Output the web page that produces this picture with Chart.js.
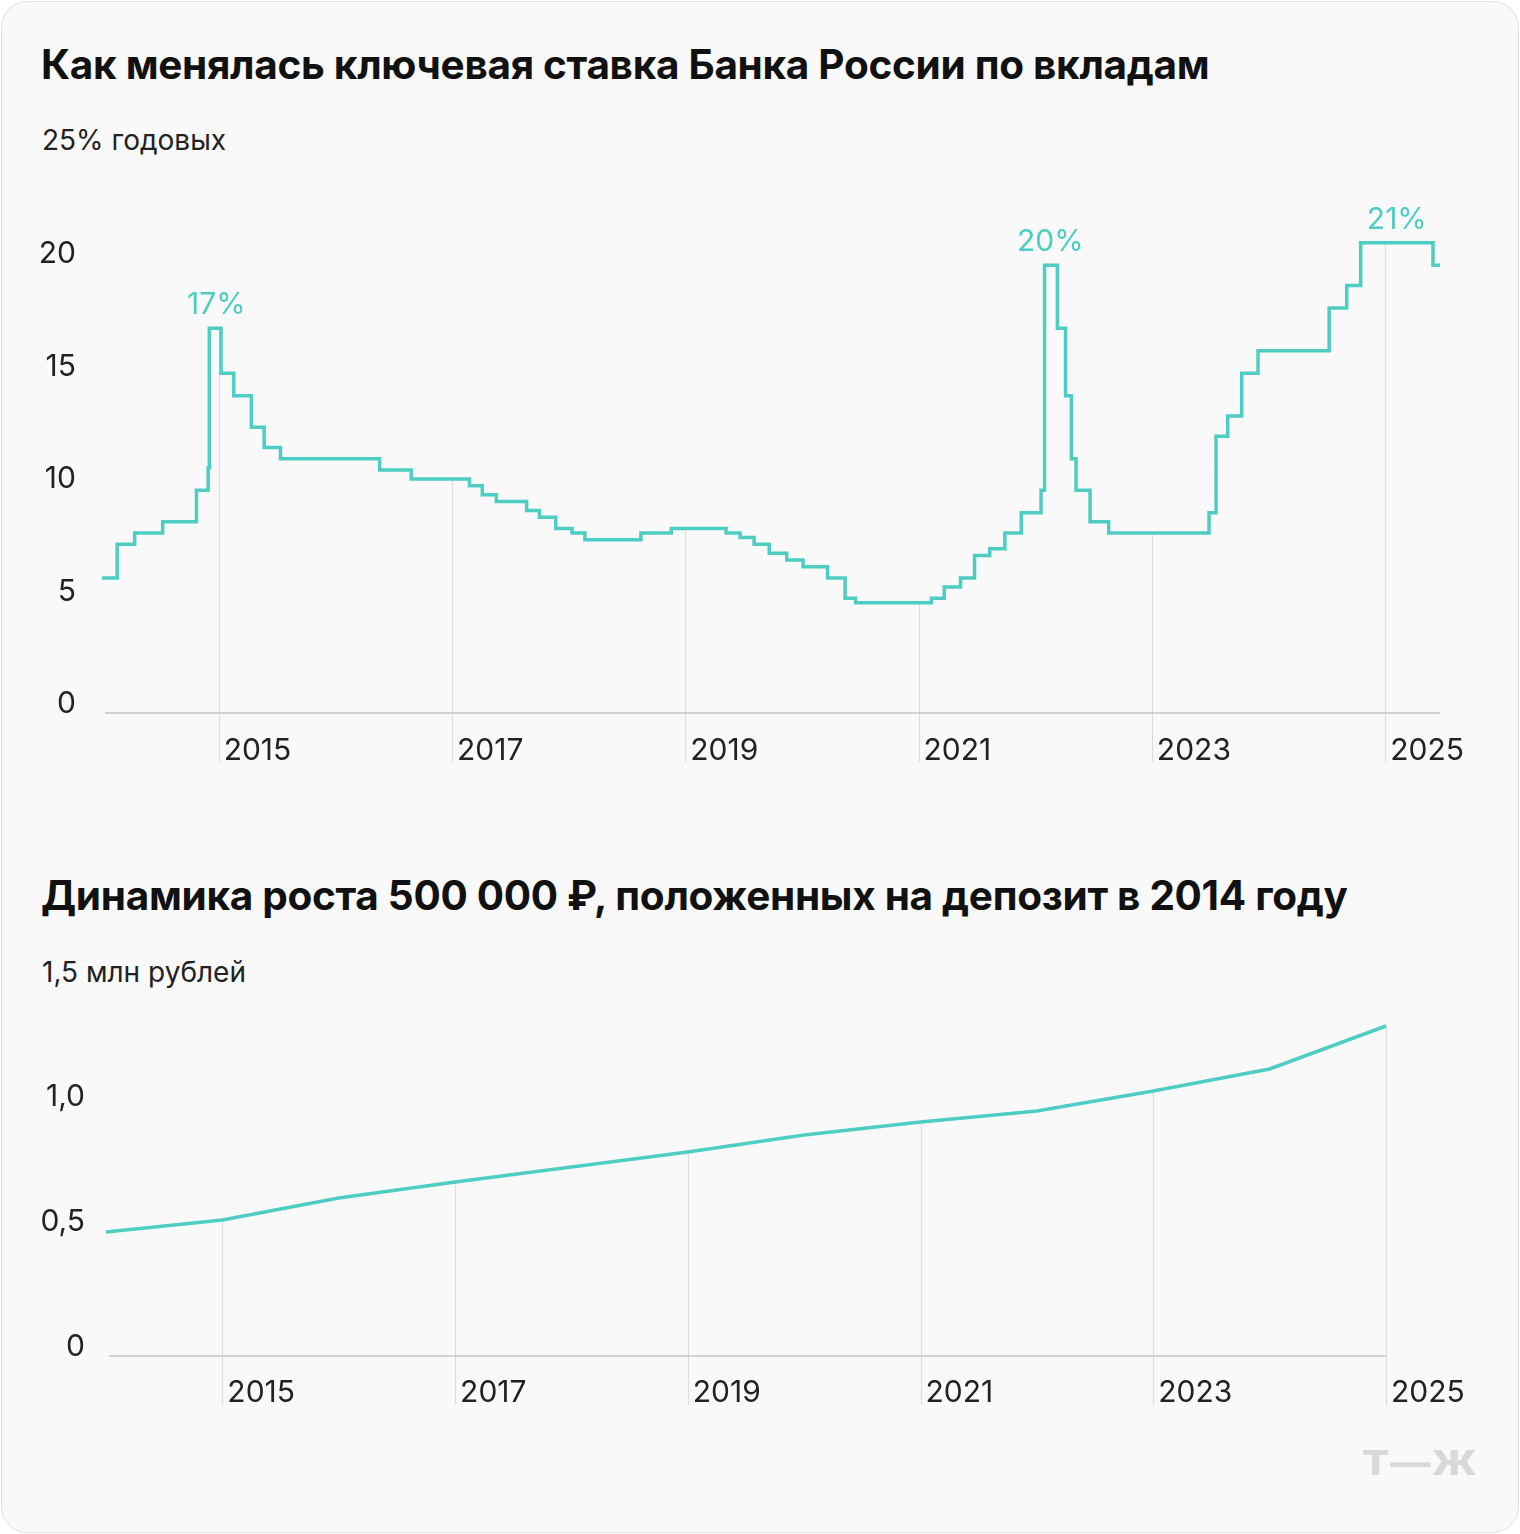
<!DOCTYPE html>
<html><head><meta charset="utf-8">
<script src="https://cdn.jsdelivr.net/npm/chart.js@4"></script>
<style>
  html,body{margin:0;padding:0;background:#fff;}
  .card{position:absolute;left:1px;top:1px;width:1516px;height:1530px;border:1px solid #e2e2e2;border-radius:26px;background:#f9f9f9;font-family:Inter,Roboto,sans-serif;color:#111;}
  h2{position:absolute;left:39px;margin:0;font-size:40.5px;font-weight:700;letter-spacing:-0.3px;}
  .unit{position:absolute;left:40px;font-size:28px;color:#222;}
  canvas{position:absolute;left:0;}
  .logo{position:absolute;left:1360px;top:1440px;font-size:34px;font-weight:800;color:#d8d8d8;letter-spacing:1px;transform:scaleX(1.18);transform-origin:left;}
</style></head>
<body><div class="card">
<h2 style="top:38px">Как менялась ключевая ставка Банка России по вкладам</h2>
<div class="unit" style="top:121px">25% годовых</div>
<h2 style="top:869px">Динамика роста 500 000 ₽, положенных на депозит в 2014 году</h2>
<div class="unit" style="top:953px">1,5 млн рублей</div>
<div class="logo">Т—Ж</div>
</div>
<canvas id="rate" width="1520" height="800" style="top:100px"></canvas>
<canvas id="growth" width="1520" height="510" style="top:940px"></canvas>
<script>
// ставка по вкладам: начало периода (год) и значение, %
const rateDates = [2014.00,2014.13,2014.28,2014.52,2014.81,2014.91,2014.92,2015.02,2015.13,2015.28,2015.39,2015.53,2016.38,2016.65,
  2017.15,2017.26,2017.38,2017.64,2017.75,2017.89,2018.03,2018.14,2018.62,2018.88,2019.35,2019.47,2019.59,2019.72,2019.87,
  2020.01,2020.22,2020.37,2020.46,2021.11,2021.22,2021.36,2021.48,2021.61,2021.74,2021.88,2022.05,2022.08,2022.19,2022.26,
  2022.31,2022.35,2022.47,2022.63,2023.49,2023.55,2023.65,2023.77,2023.91,2024.52,2024.67,2024.79,2025.41,2025.47];
const rateValues = [6.0,7.5,8.0,8.5,9.9,10.9,17.1,15.1,14.1,12.7,11.8,11.3,10.8,10.4,
  10.1,9.7,9.4,9.0,8.7,8.2,8.0,7.7,8.0,8.2,8.0,7.8,7.5,7.1,6.8,
  6.5,6.0,5.1,4.9,5.1,5.6,6.0,7.0,7.3,8.0,8.9,9.9,19.9,17.1,14.1,
  11.3,9.9,8.5,8.0,8.9,12.3,13.2,15.1,16.1,18.0,19.0,20.9,19.9,19.9];
const ratePeaks = [{x:2014.98, y:17.1, text:"17%"}, {x:2022.13, y:19.9, text:"20%"}, {x:2025.10, y:20.9, text:"21%"}];
const rateTicks = [0, 5, 10, 15, 20];

// рост вклада, млн рублей
const growthYears = [2014,2015,2016,2017,2018,2019,2020,2021,2022,2023,2024,2025];
const growthValues = [0.496,0.544,0.632,0.696,0.756,0.816,0.884,0.936,0.98,1.06,1.148,1.32];
const growthTicks = [0, 0.5, 1.0];

const gridYears = [2015, 2017, 2019, 2021, 2023, 2025];
const teal = "#4ecdc3";
const font = "Inter, Roboto, sans-serif";

function valueAt(xs, ys, t) {
  let v = ys[0];
  xs.forEach((x, i) => { if (x <= t + 1e-6) v = ys[i]; });
  return v;
}

function decor(opts) {
  return {
    id: "decor",
    beforeDatasetsDraw(chart) {
      const { ctx, scales: { x, y } } = chart;
      ctx.save();
      ctx.strokeStyle = "#dedede"; ctx.lineWidth = 1.2;
      gridYears.forEach(g => {
        const px = Math.round(x.getPixelForValue(g)) + 0.5;
        ctx.beginPath();
        ctx.moveTo(px, y.getPixelForValue(valueAt(opts.xs, opts.ys, g)));
        ctx.lineTo(px, y.getPixelForValue(0) + opts.gridBelow);
        ctx.stroke();
      });
      ctx.strokeStyle = "#c4c4c4"; ctx.lineWidth = 1.5;
      ctx.beginPath();
      ctx.moveTo(x.left + 3, y.getPixelForValue(0));
      ctx.lineTo(x.right, y.getPixelForValue(0));
      ctx.stroke();
      ctx.fillStyle = "#222"; ctx.font = "30px " + font; ctx.textBaseline = "middle";
      ctx.textAlign = "left";
      gridYears.forEach(g => ctx.fillText(String(g), x.getPixelForValue(g) + 5, y.getPixelForValue(0) + opts.yearOffset));
      ctx.textAlign = "right";
      opts.ticks.forEach(t => ctx.fillText(opts.fmt(t), opts.tickRight, y.getPixelForValue(t) - 9));
      ctx.restore();
    },
    afterDatasetsDraw(chart) {
      const { ctx, scales: { x, y } } = chart;
      ctx.save();
      ctx.fillStyle = teal; ctx.font = "30px " + font; ctx.textAlign = "center"; ctx.textBaseline = "middle";
      (opts.peaks || []).forEach(p => ctx.fillText(p.text, x.getPixelForValue(p.x), y.getPixelForValue(p.y) - 23));
      ctx.restore();
    }
  };
}

function makeChart(id, xs, ys, o) {
  new Chart(document.getElementById(id), {
    type: "line",
    data: { datasets: [{
      data: xs.map((x, i) => ({ x, y: ys[i] })),
      borderColor: teal, borderWidth: 3.5, pointRadius: 0, stepped: o.stepped, tension: 0, clip: false,
    }] },
    options: {
      responsive: false, animation: false,
      layout: { padding: o.padding },
      plugins: { legend: { display: false }, tooltip: { enabled: false } },
      scales: {
        x: { type: "linear", display: false, min: o.xmin, max: o.xmax },
        y: { display: false, min: 0, max: o.ymax },
      },
    },
    plugins: [decor({ xs, ys, ticks: o.ticks, fmt: o.fmt, tickRight: o.tickRight, peaks: o.peaks, gridBelow: o.gridBelow, yearOffset: o.yearOffset })],
  });
}

makeChart("rate", rateDates, rateValues, {
  stepped: "before", xmin: 2014, xmax: 2025.47, ymax: 25,
  padding: { left: 102, right: 80, top: 50.5, bottom: 187 },
  ticks: rateTicks, fmt: t => String(t), tickRight: 76, peaks: ratePeaks, gridBelow: 49, yearOffset: 38,
});

makeChart("growth", growthYears, growthValues, {
  stepped: false, xmin: 2014, xmax: 2025, ymax: 1.5,
  padding: { left: 106, right: 134, top: 41, bottom: 94 },
  ticks: growthTicks, fmt: t => t === 0 ? "0" : t.toFixed(1).replace(".", ","), tickRight: 85, gridBelow: 49, yearOffset: 37,
});
</script>
</body></html>
